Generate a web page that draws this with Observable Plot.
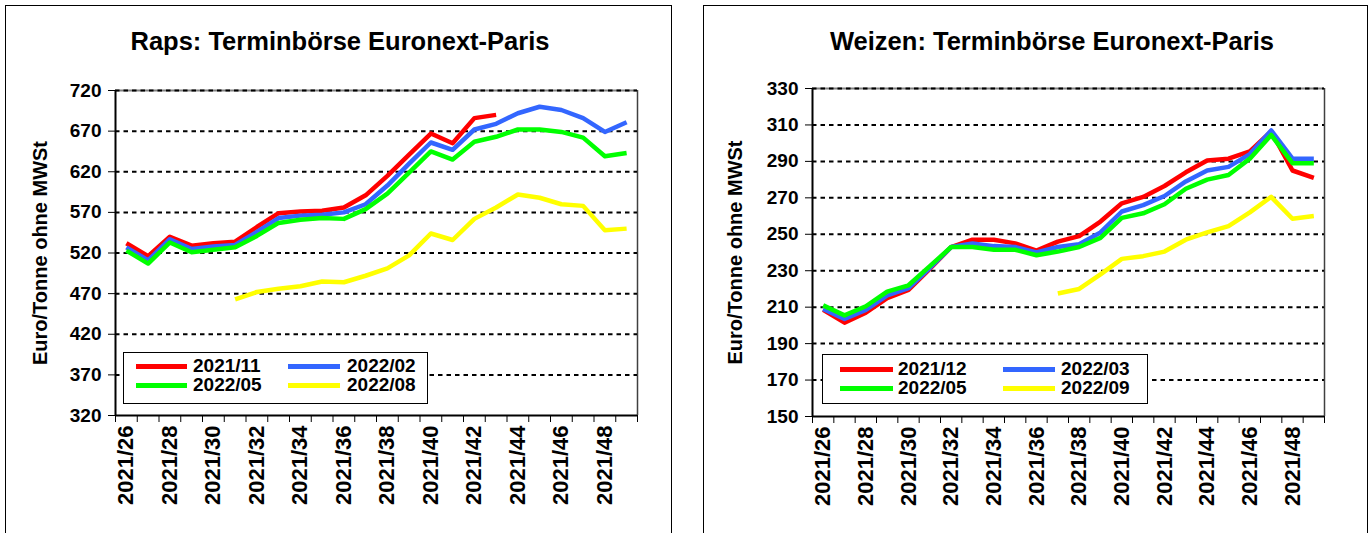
<!DOCTYPE html>
<html><head><meta charset="utf-8">
<script src="https://cdn.jsdelivr.net/npm/d3@7"></script>
<script src="https://cdn.jsdelivr.net/npm/@observablehq/plot@0.6"></script>
<style>
body{margin:0;width:1372px;height:533px;overflow:hidden;background:#fff;font-family:'Liberation Sans',Arial,sans-serif;position:relative}
.panel{position:absolute;top:5px;height:600px;border:1px solid #000;box-sizing:border-box}
.title{position:absolute;font-weight:bold;font-size:25.5px;line-height:25.5px;white-space:nowrap;transform:translateX(-50%)}
.legend{position:absolute;border:1px solid #000;background:#fff;box-sizing:border-box}
.entry{position:absolute;font-weight:bold;font-size:19px;line-height:19px;white-space:nowrap}
.sw{position:absolute;height:5px}
svg.chart{position:absolute;top:0}
</style></head><body>
<script>
// ---------- data ----------
const weeks = ["2021/26","2021/27","2021/28","2021/29","2021/30","2021/31","2021/32","2021/33","2021/34","2021/35","2021/36","2021/37",
               "2021/38","2021/39","2021/40","2021/41","2021/42","2021/43","2021/44","2021/45","2021/46","2021/47","2021/48","2021/49"];
const xTickLabels = ["2021/26","2021/28","2021/30","2021/32","2021/34","2021/36","2021/38","2021/40","2021/42","2021/44","2021/46","2021/48"];

// Raps (Euro/Tonne)
const rapsTitle = "Raps: Terminbörse Euronext-Paris";
const rapsYTicks = [320,370,420,470,520,570,620,670,720];
const rapsNames = ["2021/11","2022/02","2022/05","2022/08"];
const raps_2021_11 = [532,516,540,529,532,534,552,569,571,572,576,591,615,641,667,655,686,690,null,null,null,null,null,null];
const raps_2022_02 = [527,511,537,525,528,530,546,563,566,567,570,580,603,630,656,647,672,679,692,700,696,686,669,681];
const raps_2022_05 = [523,507,533,521,524,527,541,557,561,563,562,574,593,619,645,635,657,663,672,672,669,662,639,643];
const raps_2022_08 = [null,null,null,null,null,463,472,476,479,485,484,492,501,517,544,536,562,576,592,588,580,578,548,550];

// Weizen (Euro/Tonne)
const weizenTitle = "Weizen: Terminbörse Euronext-Paris";
const weizenYTicks = [150,170,190,210,230,250,270,290,310,330];
const weizenNames = ["2021/12","2022/03","2022/05","2022/09"];
const weizen_2021_12 = [208.5,201.5,207,215,219.5,231,243,247,247,245,241,246,249,257,267,270.5,276.5,284,290.5,291.5,295.5,306.5,285,281];
const weizen_2022_03 = [209,203.5,208.5,216.5,220.5,231.5,243,245,243.5,243,240,243,244.5,251,262.5,266,271,279,285,287,294,307,291.5,291.5];
const weizen_2022_05 = [211,205.5,210.5,218.5,222,232.5,243,243,241.5,241.5,238.5,240.5,243,248,259,261.5,266.5,275,280,282.5,291.5,304.5,289,289];
const weizen_2022_09 = [null,null,null,null,null,null,null,null,null,null,null,217.5,220,228,236.5,238,240.5,247,251,254.5,262,270.5,258.5,260];

const yLabel = "Euro/Tonne ohne MWSt";
const seriesColors = ["#ff0000","#3366ff","#00ff00","#ffff00"];

// ---------- drawing ----------
const FONT = "'Liberation Sans', Arial, sans-serif";

function chart(cfg){
  const yMin = cfg.yTicks[0], yMax = cfg.yTicks[cfg.yTicks.length-1];
  const lines = cfg.series.map((vals, k) => {
    const rows = weeks.map((w,i)=>({i, v: vals[i]})).filter(d => d.v != null);
    return Plot.line(rows, {x:"i", y:"v", stroke: seriesColors[k], strokeWidth: 4.5, strokeLinejoin:"round", strokeLinecap:"butt"});
  });
  const labelIdx = xTickLabels.map(l => weeks.indexOf(l));
  const svg = Plot.plot({
    width: cfg.width, height: 533,
    marginLeft: cfg.ml, marginRight: cfg.mr, marginTop: cfg.mt, marginBottom: cfg.mb,
    style: {fontFamily: FONT, background: "transparent", overflow: "visible", color:"#000"},
    x: {type:"linear", domain:[-0.5, weeks.length-0.5]},
    y: {type:"linear", domain:[yMin, yMax]},
    marks: [
      Plot.ruleY([yMax], {stroke:"#808080", strokeWidth:2}),
      Plot.ruleX([weeks.length-0.5], {stroke:"#404040", strokeWidth:1.5}),
      Plot.ruleY(cfg.yTicks.filter(t => t !== yMin), {stroke:"#000", strokeWidth:2, strokeDasharray:"4.5,4"}),
      ...lines,
      Plot.ruleX([-0.5], {stroke:"#000", strokeWidth:2}),
      Plot.ruleY([yMin], {stroke:"#000", strokeWidth:2}),
      Plot.axisY(cfg.yTicks, {tickSize:7, tickPadding:7, fontSize:19, fontWeight:"bold", label:null, tickFormat: d => String(d)}),
      Plot.axisX(d3.range(-0.5, weeks.length, 1), {tickSize:7, tickFormat: () => "", label:null}),
      Plot.axisX(labelIdx, {tickSize:0, tickPadding:10, tickRotate:-90, fontSize:22, fontWeight:"bold", label:null, tickFormat: i => weeks[i]}),
      Plot.text([yLabel], {text: d => d, frameAnchor:"left", textAnchor:"middle", lineAnchor:"middle", rotate:-90, dx: cfg.labelDx, fontSize:20, fontWeight:"bold"})
    ]
  });
  svg.classList.add("chart");
  svg.style.left = cfg.left + "px";
  return svg;
}

function panel(left, width){
  const d = document.createElement("div");
  d.className = "panel";
  d.style.left = left + "px"; d.style.width = width + "px";
  document.body.appendChild(d);
}
function title(text, cx, top){
  const d = document.createElement("div");
  d.className = "title"; d.textContent = text;
  d.style.left = cx + "px"; d.style.top = top + "px";
  document.body.appendChild(d);
}
function legend(names, box, colX, rowY){
  const lg = document.createElement("div");
  lg.className = "legend";
  Object.assign(lg.style, {left: box[0]+"px", top: box[1]+"px", width: box[2]+"px", height: box[3]+"px"});
  document.body.appendChild(lg);
  names.forEach((n, k) => {
    const c = k % 2, r = Math.floor(k / 2);
    const sw = document.createElement("div");
    sw.className = "sw";
    Object.assign(sw.style, {left: colX[c][0]+"px", top: (rowY[r]-2.5)+"px", width: colX[c][1]+"px", background: seriesColors[k]});
    document.body.appendChild(sw);
    const t = document.createElement("div");
    t.className = "entry"; t.textContent = n;
    Object.assign(t.style, {left: colX[c][2]+"px", top: (rowY[r]-10)+"px"});
    document.body.appendChild(t);
  });
}

panel(5, 667);
panel(703, 665);

document.body.appendChild(chart({
  left: 0, width: 680, ml: 115, mr: 43, mt: 90, mb: 118, labelDx: -75,
  yTicks: rapsYTicks, series: [raps_2021_11, raps_2022_02, raps_2022_05, raps_2022_08]
}));
document.body.appendChild(chart({
  left: 690, width: 682, ml: 122, mr: 48, mt: 88, mb: 117, labelDx: -77,
  yTicks: weizenYTicks, series: [weizen_2021_12, weizen_2022_03, weizen_2022_05, weizen_2022_09]
}));

title(rapsTitle, 340, 29);
title(weizenTitle, 1052, 29);

legend(rapsNames, [123, 352, 305, 52], [[136, 51, 193], [288, 52, 347]], [366, 385]);
legend(weizenNames, [822, 354, 326, 50], [[840, 53, 898], [1003, 52, 1061]], [369, 388]);
</script>
</body></html>
